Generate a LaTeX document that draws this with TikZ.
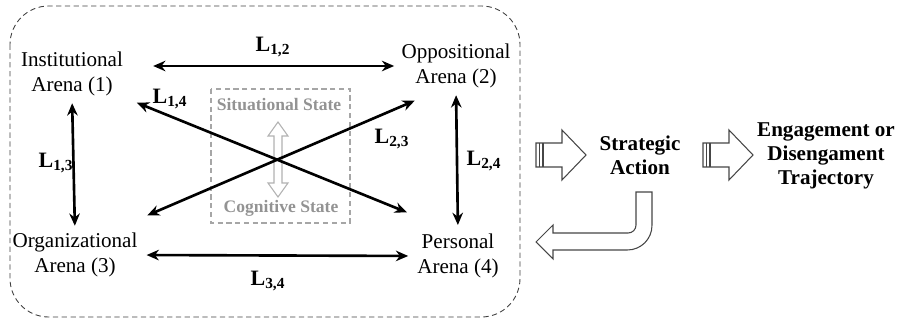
\documentclass[tikz,border=0pt]{standalone}
\usepackage{fontspec}
\setmainfont{Liberation Serif}
\usetikzlibrary{arrows.meta}

\begin{document}
\begin{tikzpicture}[x=0.02cm,y=-0.02cm,>=Stealth,
  arena/.style={align=center,inner sep=0pt,font=\fontsize{12}{14}\selectfont},
  link/.style={>={Stealth[length=7pt,width=6pt]},<->,line width=1.5pt},
  lab/.style={font=\fontsize{12.5}{14}\selectfont\bfseries},
  state/.style={font=\fontsize{10}{12}\selectfont\bfseries,text=gray!85},
  block/.style={draw=gray!55!black,line width=.6pt,fill=white},
  side/.style={align=center,font=\fontsize{12}{13.5}\selectfont\bfseries}]
  \useasboundingbox (0,0) rectangle (900,324);
  % frames
  \draw[gray!50!black,densely dashed,line width=.5pt,rounded corners=22pt]
    (10,6) rectangle (520,317);
  \draw[gray!70,densely dashed,line width=.6pt] (211,89) rectangle (350,223);
  \node[state] (ss) at (279,105) {Situational State};
  \node[state] (cs) at (281,208) {Cognitive State};
  \draw[gray!60,line width=.6pt,fill=white]
    (274,136) -- (268,136) -- (278,122) -- (288,136) -- (282,136) -- (282,183)
    -- (288,183) -- (278,197) -- (268,183) -- (274,183) -- cycle;

  % the four arenas
  \node[arena] (ia) at (72,74) {Institutional\\Arena (1)};
  \node[arena] (oa) at (456,66) {Oppositional\\Arena (2)};
  \node[arena] (ga) at (75,255) {Organizational\\Arena (3)};
  \node[arena] (pa) at (458,256) {Personal\\Arena (4)};

  \draw[link,shorten <=17pt,shorten >=4pt] (ia.east |- oa.west) -- (oa.west);
  \draw[link,shorten <=5pt,shorten >=5pt] (ga.east) -- (pa.west);
  \draw[link,shorten <=4pt,shorten >=4pt] (ia.south) -- (ga.north);
  \draw[link,shorten <=4pt,shorten >=5pt] (oa.south) -- (pa.north);
  \draw[link] ([xshift=7.7pt,yshift=-3.7pt]ia.south east)
    -- ([xshift=-5.7pt,yshift=12.2pt]pa.north west);
  \draw[link] ([xshift=7.7pt,yshift=-7.1pt]oa.south west)
    -- ([xshift=5.4pt,yshift=9.9pt]ga.north east);

  \node[lab] (l12) at (273,47) {L\textsubscript{1,2}};
  \node[lab] (l13) at (56,163) {L\textsubscript{1,3}};
  \node[lab] (l14) at (170,99) {L\textsubscript{1,4}};
  \node[lab] (l23) at (392,139) {L\textsubscript{2,3}};
  \node[lab] (l24) at (484,161) {L\textsubscript{2,4}};
  \node[lab] (l34) at (268,281) {L\textsubscript{3,4}};

  % right part
  \node[side] (sa) at (640,155) {Strategic\\Action};
  \node[side] (et) at (826,156) {Engagement or\\Disengament\\Trajectory};
  \foreach \ax in {536,703} {
    \draw[block] (\ax,143) -- (\ax+26,143) -- (\ax+26,130) -- (\ax+50,155)
      -- (\ax+26,180) -- (\ax+26,167) -- (\ax,167) -- cycle;
    \draw[gray!55!black,line width=.9pt] (\ax+3.5,143) -- (\ax+3.5,167)
      (\ax+7,143) -- (\ax+7,167);
  }
  \draw[block] (636,192) [rounded corners=4.5pt] -- (636,233) [sharp corners]
    -- (553,233) -- (553,225) -- (536,242) -- (553,259) -- (553,250)
    [rounded corners=14pt] -- (652,250) [sharp corners] -- (652,192) -- cycle;
\end{tikzpicture}
\end{document}
